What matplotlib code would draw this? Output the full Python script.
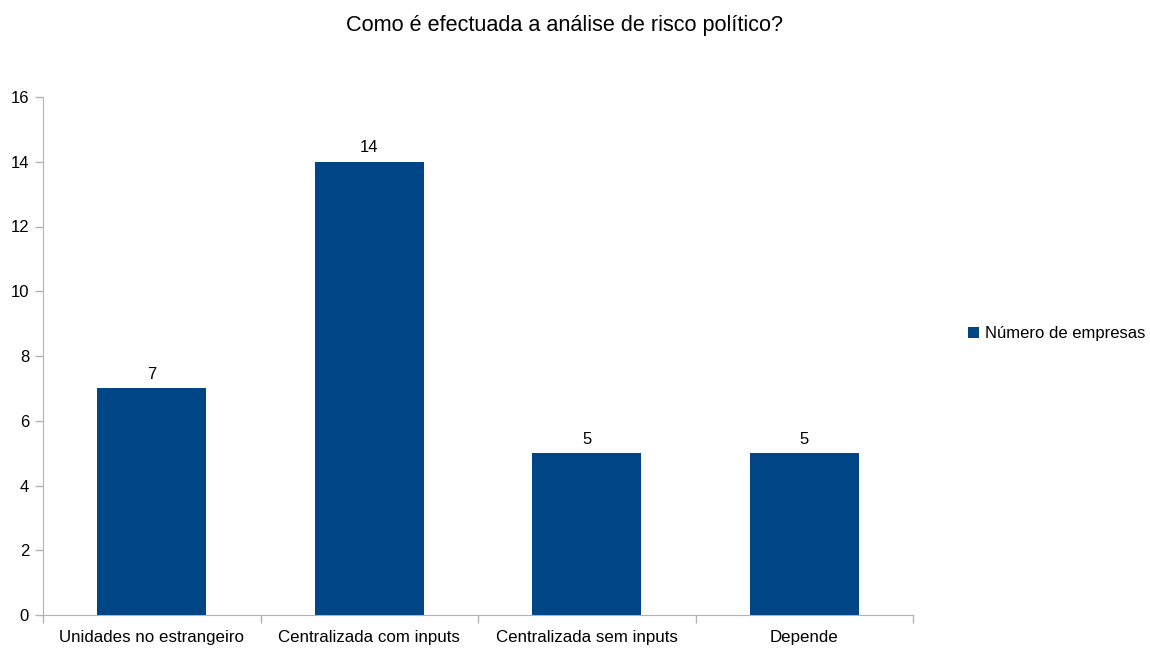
import numpy as np
from matplotlib import pyplot as plt

categories = ["Unidades no estrangeiro", "Centralizada com inputs",
              "Centralizada sem inputs", "Depende"]
empresas = [7, 14, 5, 5]
series_name = "Número de empresas"
title = "Como é efectuada a análise de risco político?"

plt.rcParams['font.family'] = ['Liberation Sans', 'DejaVu Sans']

fig = plt.figure(figsize=(11.5, 6.48), dpi=100)
ax = fig.add_axes([43 / 1150, 33 / 648, 870 / 1150, 518 / 648])

x = np.arange(len(categories)) + 0.5
bars = ax.bar(x, empresas, width=0.5, color='#004586', label=series_name, zorder=2)
for b, v in zip(bars, empresas):
    ax.text(b.get_x() + b.get_width() / 2, v + 0.2, str(v),
            ha='center', va='bottom', fontsize=12)

ax.set_xlim(0, len(categories))
ax.set_ylim(0, 16)
ax.set_yticks(np.arange(0, 17, 2))
ax.set_xticks(x)
ax.set_xticklabels(categories, fontsize=12.2)
ax.set_xticks(np.arange(0, len(categories) + 1), minor=True)
ax.tick_params(axis='x', which='major', length=0, pad=11)
ax.tick_params(axis='x', which='minor', length=6, color='#b3b3b3', width=1)
ax.tick_params(axis='y', length=6, color='#b3b3b3', width=1, labelsize=12, pad=4)

for side in ['top', 'right']:
    ax.spines[side].set_visible(False)
for side in ['left', 'bottom']:
    ax.spines[side].set_color('#b3b3b3')

fig.text(565 / 1150, 1 - 26 / 648, title, ha='center', va='center', fontsize=15.6)

leg = ax.legend(loc='center left', bbox_to_anchor=(1.0495, 0.543), frameon=False,
                fontsize=12, handlelength=0.7, handleheight=0.7, handletextpad=0.35,
                borderpad=0.2)

fig.savefig('out.png', dpi=100)
